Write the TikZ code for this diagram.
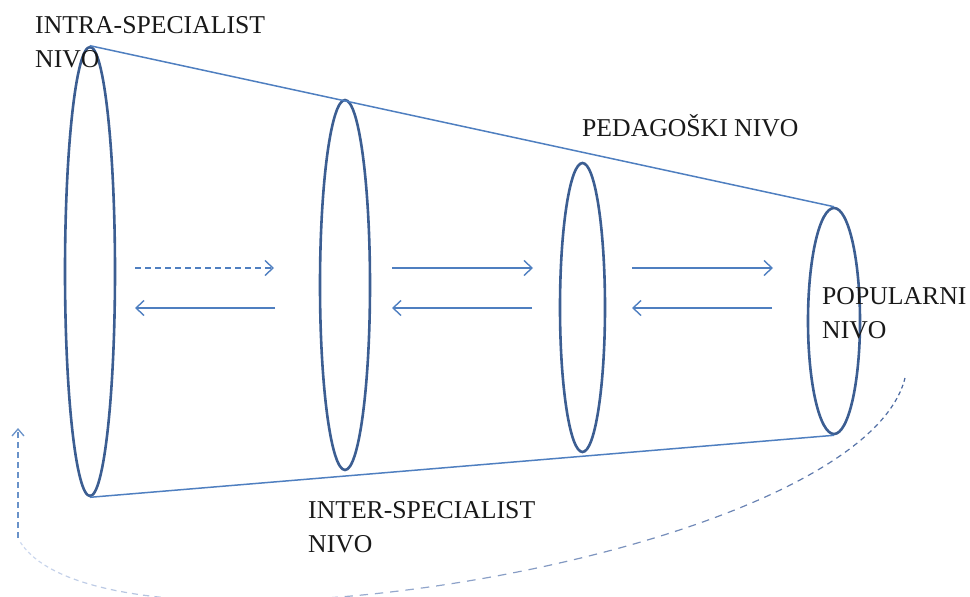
\documentclass[tikz,border=0pt]{standalone}
\usepackage{fontspec}
\setmainfont{Liberation Serif}
\usetikzlibrary{shapes.geometric,arrows.meta}
\definecolor{rimblue}{HTML}{3C5E92}
\definecolor{lineblue}{HTML}{4F7FC0}
\definecolor{curvedark}{HTML}{46659E}
\definecolor{curvelight}{HTML}{D0DBF0}
\tikzset{
  rim/.style={draw=rimblue, line width=2.6pt, ellipse, inner sep=0pt},
  edgeline/.style={draw=lineblue, line width=1.5pt},
  flow/.style={draw=lineblue, line width=1.4pt, -{Straight Barb[length=8pt,width=15pt,line width=1.4pt]}},
  label/.style={font=\fontsize{25.7}{34}\selectfont, align=left, inner sep=0pt, anchor=base west, text=black!90},
}
\begin{document}
\begin{tikzpicture}[x=1pt,y=-1pt]
\useasboundingbox (0,0) rectangle (970,597);
% rims
\node[rim, minimum width=50pt, minimum height=449pt] (e1) at (90,271.5) {};
\node[rim, minimum width=50pt, minimum height=370pt] (e2) at (345,285) {};
\node[rim, minimum width=45pt, minimum height=289pt] (e3) at (582.5,307.5) {};
\node[rim, minimum width=52pt, minimum height=226pt] (e4) at (834,321) {};
% cone edges
\draw[edgeline] (e1.north) -- (e4.north);
\draw[edgeline] (e1.south) -- (e4.south);
% arrows
\coordinate (a1s) at (135,268); \coordinate (a1e) at (274,268);
\coordinate (a2s) at (392,268); \coordinate (a2e) at (533,268);
\coordinate (a3s) at (632,268); \coordinate (a3e) at (773,268);
\coordinate (b1s) at (275,308); \coordinate (b1e) at (135,308);
\coordinate (b2s) at (532,308); \coordinate (b2e) at (392,308);
\coordinate (b3s) at (772,308); \coordinate (b3e) at (632,308);
\draw[flow, dash pattern=on 6pt off 4pt] (a1s) -- (a1e);
\draw[flow] (a2s) -- (a2e);
\draw[flow] (a3s) -- (a3e);
\draw[flow] (b1s) -- (b1e);
\draw[flow] (b2s) -- (b2e);
\draw[flow] (b3s) -- (b3e);
% return curve
\coordinate (cs) at (905,378);
\coordinate (ce) at (19,540);
\foreach \i in {0,...,79} {
  \pgfmathsetmacro\pa{2*\i/160}
  \pgfmathsetmacro\pb{(2*\i+1.1)/160}
  \pgfmathsetmacro\pc{100*\i/79}
  \path (cs) .. controls (860,560) and (100,680) .. (ce)
     coordinate[pos=\pa] (sa) coordinate[pos=\pb] (sb);
  \draw[color=curvelight!\pc!curvedark, line width=1.2pt] (sa) -- (sb);
}
\coordinate (up1) at (18,538);
\coordinate (up2) at (18,428);
\draw[draw=lineblue!85, line width=1.3pt, dash pattern=on 6pt off 4pt, -{Straight Barb[length=7pt,width=12pt,line width=1.3pt]}] (up1) -- (up2);
% labels (base anchor = baseline of the last line)
\node[label] (t1) at (35,67) {INTRA-SPECIALIST\\NIVO};
\node[label] (t2) at (582,136) {PEDAGOŠKI NIVO};
\node[label] (t3) at (822,338) {POPULARNI\\NIVO};
\node[label] (t4) at (308,552) {INTER-SPECIALIST\\NIVO};
\end{tikzpicture}
\end{document}
